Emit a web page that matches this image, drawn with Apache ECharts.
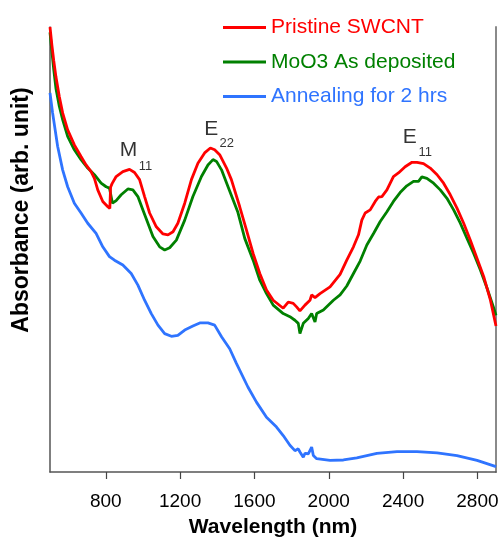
<!DOCTYPE html>
<html>
<head>
<meta charset="utf-8">
<script src="https://cdn.jsdelivr.net/npm/echarts@6/dist/echarts.min.js"></script>
<style>
  html, body { margin: 0; padding: 0; background: #fff; }
  #chart { width: 502px; height: 538px; }
</style>
</head>
<body>
<div id="chart"></div>
<script>
// wavelength ticks (nm)
const tickValues = [800, 1200, 1600, 2000, 2400, 2800];

// Pristine SWCNT
const pristineNm = [500, 510, 520, 532, 550, 568, 595, 631, 667, 694, 721, 739, 757, 784, 811, 822, 826, 834, 856, 892, 928, 955, 982, 1009, 1036, 1072, 1108, 1135, 1162, 1188, 1225, 1261, 1296, 1332, 1363, 1386, 1413, 1450, 1476, 1521, 1557, 1593, 1629, 1665, 1701, 1755, 1782, 1809, 1827, 1845, 1872, 1899, 1908, 1926, 1953, 2007, 2061, 2097, 2133, 2160, 2178, 2196, 2223, 2250, 2268, 2286, 2313, 2348, 2375, 2411, 2448, 2475, 2510, 2546, 2583, 2618, 2654, 2690, 2726, 2762, 2798, 2834, 2870, 2900];
const pristineAbs = [1.000, 0.960, 0.925, 0.888, 0.844, 0.807, 0.769, 0.735, 0.709, 0.690, 0.675, 0.660, 0.634, 0.608, 0.596, 0.592, 0.640, 0.648, 0.664, 0.675, 0.680, 0.673, 0.657, 0.619, 0.582, 0.551, 0.535, 0.533, 0.540, 0.559, 0.604, 0.657, 0.694, 0.717, 0.728, 0.724, 0.713, 0.683, 0.657, 0.596, 0.544, 0.491, 0.446, 0.409, 0.386, 0.368, 0.382, 0.379, 0.371, 0.362, 0.375, 0.386, 0.398, 0.392, 0.401, 0.416, 0.444, 0.476, 0.506, 0.533, 0.566, 0.582, 0.589, 0.608, 0.618, 0.619, 0.634, 0.664, 0.672, 0.686, 0.696, 0.696, 0.693, 0.683, 0.668, 0.649, 0.623, 0.593, 0.559, 0.521, 0.480, 0.439, 0.386, 0.328];

// MoO3 as deposited
const depositedNm = [500, 510, 520, 532, 550, 568, 595, 631, 667, 703, 739, 775, 802, 820, 829, 836, 856, 883, 919, 946, 973, 1000, 1027, 1054, 1090, 1117, 1144, 1180, 1225, 1269, 1315, 1350, 1377, 1396, 1423, 1458, 1510, 1548, 1593, 1629, 1665, 1701, 1755, 1791, 1818, 1836, 1845, 1863, 1890, 1908, 1926, 1935, 1971, 2025, 2061, 2097, 2133, 2169, 2205, 2241, 2277, 2313, 2348, 2384, 2420, 2456, 2483, 2501, 2528, 2564, 2600, 2636, 2672, 2708, 2744, 2780, 2816, 2852, 2888, 2900];
const depositedAbs = [0.988, 0.945, 0.905, 0.862, 0.822, 0.792, 0.754, 0.724, 0.702, 0.683, 0.668, 0.649, 0.641, 0.638, 0.634, 0.604, 0.610, 0.623, 0.636, 0.634, 0.619, 0.589, 0.559, 0.529, 0.506, 0.499, 0.504, 0.521, 0.566, 0.619, 0.664, 0.690, 0.702, 0.698, 0.679, 0.641, 0.585, 0.525, 0.476, 0.431, 0.401, 0.375, 0.356, 0.349, 0.341, 0.334, 0.311, 0.334, 0.345, 0.356, 0.337, 0.356, 0.364, 0.386, 0.398, 0.418, 0.446, 0.474, 0.510, 0.536, 0.563, 0.585, 0.608, 0.628, 0.643, 0.653, 0.653, 0.663, 0.660, 0.649, 0.634, 0.615, 0.589, 0.559, 0.525, 0.491, 0.454, 0.413, 0.368, 0.352];

// Annealing for 2 hrs
const annealedNm = [500, 514, 541, 568, 595, 631, 667, 703, 748, 784, 820, 847, 892, 937, 973, 1009, 1045, 1081, 1117, 1153, 1188, 1225, 1269, 1306, 1350, 1386, 1423, 1467, 1503, 1565, 1611, 1665, 1719, 1755, 1791, 1818, 1836, 1845, 1863, 1872, 1890, 1908, 1917, 1935, 2007, 2079, 2151, 2259, 2367, 2475, 2583, 2690, 2798, 2900];
const annealedAbs = [0.852, 0.807, 0.732, 0.679, 0.641, 0.604, 0.582, 0.559, 0.536, 0.506, 0.484, 0.476, 0.465, 0.446, 0.420, 0.386, 0.356, 0.330, 0.311, 0.305, 0.307, 0.319, 0.328, 0.335, 0.335, 0.330, 0.304, 0.277, 0.244, 0.191, 0.157, 0.123, 0.101, 0.082, 0.060, 0.048, 0.052, 0.045, 0.033, 0.042, 0.041, 0.056, 0.037, 0.030, 0.026, 0.027, 0.032, 0.042, 0.046, 0.046, 0.043, 0.037, 0.026, 0.012];

// peak annotations (letter + subscript)
const peakNames = ['M', 'E', 'E'];
const peakSubs = ['11', '22', '11'];
const peakNameAt = [[922, 0.724], [1368, 0.771], [2436, 0.752]];
const peakSubAt = [[1014, 0.687], [1451, 0.738], [2519, 0.718]];

const seriesNames = ['Pristine SWCNT', 'MoO3 As deposited', 'Annealing for 2 hrs'];
const colors = ['#ff0000', '#008000', '#2f74ff'];

const zip = (xs, ys) => xs.map((x, i) => [x, ys[i]]);
const curves = [zip(pristineNm, pristineAbs), zip(depositedNm, depositedAbs), zip(annealedNm, annealedAbs)];

const font = 'Liberation Sans, Arial, sans-serif';

const myChart = echarts.init(document.getElementById('chart'), null, { renderer: 'canvas' });

const lineSeries = curves.map((data, i) => ({
  name: seriesNames[i],
  type: 'line',
  showSymbol: false,
  symbol: 'none',
  lineStyle: { color: colors[i], width: 2.8 },
  itemStyle: { color: colors[i] },
  z: 3 - i,
  data: data,
}));

const labelSeries = {
  type: 'scatter',
  symbolSize: 0,
  silent: true,
  label: {
    show: true,
    position: 'inside',
    formatter: '{b}',
    color: '#000',
    fontFamily: font,
  },
  data: peakNames.map((n, i) => ({
    name: n, value: peakNameAt[i], label: { fontSize: 21 },
  })).concat(peakSubs.map((s, i) => ({
    name: s, value: peakSubAt[i], label: { fontSize: 13 },
  }))),
};

const option = {
  animation: false,
  backgroundColor: '#fff',
  grid: { left: 50, right: 6, top: 27, bottom: 66, containLabel: false, outerBoundsMode: 'none' },
  legend: {
    orient: 'vertical',
    left: 223,
    top: 17,
    padding: 0,
    itemWidth: 43,
    itemHeight: 3,
    itemGap: 13.5,
    icon: 'rect',
    textStyle: { fontSize: 21, fontFamily: font },
    data: seriesNames.map((n, i) => ({
      name: n,
      itemStyle: { color: colors[i] },
      textStyle: { color: colors[i] },
    })),
  },
  xAxis: {
    type: 'value',
    min: 500,
    max: 2900,
    axisLine: { show: true, onZero: false, lineStyle: { color: '#555', width: 1.5 } },
    axisTick: {
      show: true,
      inside: false,
      length: 7,
      customValues: tickValues,
      lineStyle: { color: '#444', width: 1.2 },
    },
    axisLabel: {
      customValues: tickValues,
      formatter: v => String(v),
      margin: 20,
      fontSize: 19,
      fontFamily: font,
      color: '#000',
    },
    splitLine: { show: false },
    name: 'Wavelength (nm)',
    nameLocation: 'middle',
    nameGap: 45,
    nameTextStyle: { fontSize: 21, fontWeight: 'bold', fontFamily: font, color: '#000' },
  },
  yAxis: [
    {
      type: 'value',
      min: 0,
      max: 1,
      axisLine: { show: true, lineStyle: { color: '#555', width: 1.5 } },
      axisTick: { show: false },
      axisLabel: { show: false },
      splitLine: { show: false },
    },
    {
      type: 'value',
      position: 'right',
      min: 0,
      max: 1,
      axisLine: { show: true, lineStyle: { color: '#8a8a8a', width: 2 } },
      axisTick: { show: false },
      axisLabel: { show: false },
      splitLine: { show: false },
    },
  ],
  graphic: [{
    type: 'text',
    x: 22,
    y: 210,
    rotation: Math.PI / 2,
    style: {
      text: 'Absorbance (arb. unit)',
      fill: '#000',
      font: 'bold 23px ' + font,
      textAlign: 'center',
      textVerticalAlign: 'middle',
    },
  }],
  series: lineSeries.concat([labelSeries]),
};

myChart.setOption(option);
</script>
</body>
</html>
